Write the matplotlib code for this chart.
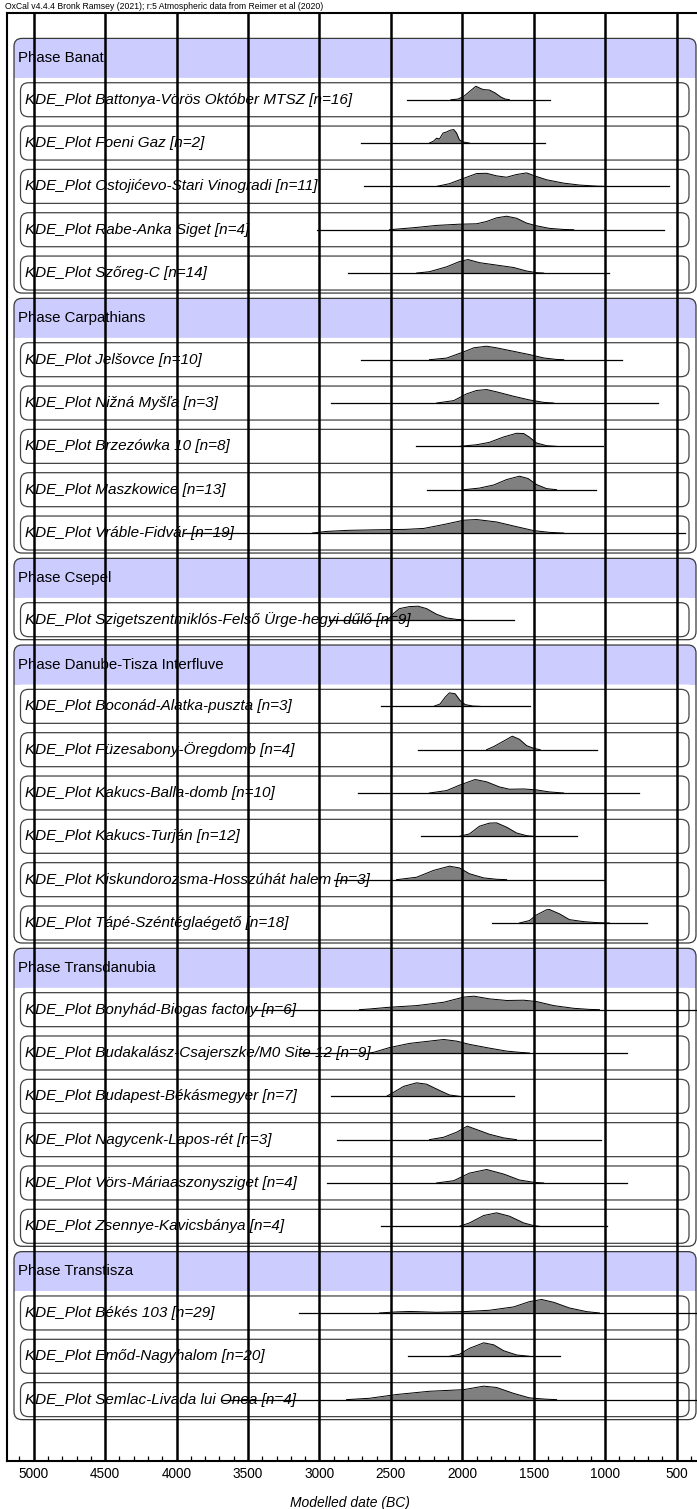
import matplotlib
matplotlib.use("Agg")
import matplotlib.pyplot as plt
import matplotlib.transforms as mtransforms
from matplotlib.patches import FancyBboxPatch, Rectangle
from matplotlib.ticker import MultipleLocator

plt.rcParams['font.family'] = ['Liberation Sans', 'DejaVu Sans']

# phases and the sites grouped under each of them
phases = ["Banat", "Carpathians", "Csepel", "Danube-Tisza Interfluve", "Transdanubia", "Transtisza"]
phase_sizes = [5, 5, 1, 6, 6, 3]

sites = [
    "Battonya-Vörös Október MTSZ", "Foeni Gaz", "Ostojićevo-Stari Vinogradi", "Rabe-Anka Siget", "Szőreg-C",
    "Jelšovce", "Nižná Myšľa", "Brzezówka 10", "Maszkowice", "Vráble-Fidvár",
    "Szigetszentmiklós-Felső Ürge-hegyi dűlő",
    "Boconád-Alatka-puszta", "Füzesabony-Öregdomb", "Kakucs-Balla-domb", "Kakucs-Turján",
    "Kiskundorozsma-Hosszúhát halem", "Tápé-Széntéglaégető",
    "Bonyhád-Biogas factory", "Budakalász-Csajerszke/M0 Site 12", "Budapest-Békásmegyer",
    "Nagycenk-Lapos-rét", "Vörs-Máriaaszonysziget", "Zsennye-Kavicsbánya",
    "Békés 103", "Emőd-Nagyhalom", "Semlac-Livada lui Onea",
]
site_n = [16, 2, 11, 4, 14, 10, 3, 8, 13, 19, 9, 3, 4, 10, 12, 3, 18, 6, 9, 7, 3, 4, 4, 29, 20, 4]

# extent of each KDE (years BC)
range_from = [2390, 2710, 2690, 3020, 2800, 2710, 2920, 2325, 2245, 3950, 2930, 2570, 2310,
              2730, 2290, 2900, 1790, 3450, 3135, 2920, 2875, 2945, 2570, 3145, 2380, 3680]
range_to = [1385, 1420, 550, 590, 975, 880, 630, 1015, 1065, 440, 1635, 1525, 1060,
            765, 1195, 1010, 710, 300, 845, 1640, 1030, 845, 985, 300, 1315, 300]

# KDE shapes: dates (BC) and density relative to each curve's maximum
kde_dates = [
    [2080, 2030, 1990, 1950, 1905, 1870, 1850, 1810, 1770, 1730, 1700, 1670],
    [2230, 2200, 2180, 2160, 2135, 2110, 2085, 2060, 2040, 2020, 1995, 1950],
    [2180, 2090, 1990, 1900, 1830, 1760, 1690, 1620, 1550, 1480, 1410, 1290, 1180, 1060, 990],
    [2510, 2340, 2180, 2020, 1900, 1830, 1760, 1690, 1620, 1550, 1480, 1390, 1290, 1220],
    [2320, 2230, 2110, 2020, 1960, 1880, 1760, 1640, 1550, 1480, 1430],
    [2230, 2110, 1990, 1920, 1830, 1760, 1640, 1530, 1430, 1340, 1290],
    [2180, 2060, 1970, 1900, 1830, 1760, 1640, 1530, 1430, 1360],
    [2020, 1900, 1810, 1710, 1620, 1570, 1530, 1480, 1410, 1340],
    [1990, 1880, 1780, 1690, 1600, 1540, 1480, 1410, 1340],
    [3050, 2950, 2800, 2600, 2400, 2270, 2130, 1990, 1900, 1760, 1620, 1500, 1390, 1290],
    [2540, 2510, 2480, 2440, 2370, 2310, 2250, 2180, 2110, 2040, 1990],
    [2200, 2155, 2120, 2090, 2050, 2015, 1980, 1925, 1875],
    [1830, 1780, 1710, 1650, 1600, 1550, 1500, 1455],
    [2230, 2110, 2020, 1910, 1830, 1740, 1670, 1570, 1480, 1390, 1290],
    [2020, 1950, 1880, 1810, 1760, 1690, 1620, 1550, 1500],
    [2460, 2320, 2200, 2090, 2020, 1950, 1850, 1760, 1690],
    [1600, 1530, 1480, 1410, 1390, 1320, 1250, 1150, 1060, 970],
    [2720, 2650, 2510, 2320, 2130, 1990, 1920, 1810, 1690, 1570, 1480, 1360, 1220, 1110, 1040],
    [2650, 2620, 2510, 2370, 2230, 2130, 2040, 1950, 1810, 1690, 1600, 1530],
    [2530, 2480, 2410, 2320, 2250, 2160, 2090, 2020],
    [2230, 2130, 2040, 1965, 1900, 1810, 1710, 1620],
    [2180, 2060, 1950, 1830, 1710, 1600, 1500, 1430],
    [2020, 1950, 1850, 1760, 1670, 1570, 1500, 1460],
    [2580, 2460, 2370, 2320, 2180, 1990, 1810, 1640, 1530, 1445, 1360, 1250, 1130, 1040],
    [2090, 2020, 1950, 1850, 1780, 1710, 1620, 1530],
    [2810, 2650, 2460, 2230, 1990, 1850, 1760, 1640, 1530, 1410, 1340],
]
kde_dens = [
    [0, 0.05, 0.25, 0.6, 1.0, 0.82, 0.75, 0.72, 0.5, 0.2, 0.05, 0],
    [0, 0.15, 0.36, 0.3, 0.74, 0.82, 0.95, 1.0, 0.74, 0.23, 0.08, 0],
    [0, 0.2, 0.6, 0.95, 0.97, 0.78, 0.68, 0.88, 1.0, 0.73, 0.49, 0.24, 0.1, 0.02, 0],
    [0, 0.15, 0.32, 0.41, 0.44, 0.61, 0.88, 1.0, 0.85, 0.49, 0.29, 0.1, 0.02, 0],
    [0, 0.1, 0.46, 0.85, 1.0, 0.77, 0.59, 0.41, 0.15, 0.03, 0],
    [0, 0.12, 0.58, 0.88, 1.0, 0.88, 0.62, 0.38, 0.13, 0.02, 0],
    [0, 0.18, 0.68, 0.93, 1.0, 0.83, 0.5, 0.23, 0.05, 0],
    [0, 0.12, 0.3, 0.7, 0.97, 0.95, 0.68, 0.25, 0.05, 0],
    [0, 0.12, 0.35, 0.75, 1.0, 0.83, 0.38, 0.08, 0],
    [0, 0.12, 0.2, 0.24, 0.27, 0.34, 0.63, 0.95, 1.0, 0.82, 0.47, 0.18, 0.05, 0],
    [0, 0.12, 0.47, 0.82, 0.97, 1.0, 0.82, 0.4, 0.13, 0.02, 0],
    [0, 0.18, 0.68, 1.0, 0.93, 0.43, 0.13, 0.02, 0],
    [0, 0.23, 0.64, 1.0, 0.77, 0.3, 0.1, 0],
    [0, 0.18, 0.58, 1.0, 0.83, 0.45, 0.28, 0.3, 0.23, 0.08, 0],
    [0, 0.18, 0.75, 0.98, 1.0, 0.68, 0.25, 0.05, 0],
    [0, 0.18, 0.69, 1.0, 0.87, 0.44, 0.13, 0.03, 0],
    [0, 0.18, 0.6, 0.98, 1.0, 0.68, 0.25, 0.1, 0.03, 0],
    [0, 0.05, 0.18, 0.3, 0.55, 0.93, 1.0, 0.8, 0.68, 0.7, 0.6, 0.3, 0.1, 0.02, 0],
    [0, 0.05, 0.4, 0.71, 0.88, 1.0, 0.88, 0.64, 0.36, 0.14, 0.05, 0],
    [0, 0.3, 0.74, 1.0, 0.9, 0.44, 0.1, 0],
    [0, 0.18, 0.55, 1.0, 0.75, 0.4, 0.13, 0],
    [0, 0.17, 0.73, 1.0, 0.66, 0.22, 0.05, 0],
    [0, 0.25, 0.8, 1.0, 0.75, 0.25, 0.05, 0],
    [0, 0.08, 0.11, 0.1, 0.05, 0.1, 0.2, 0.45, 0.84, 1.0, 0.79, 0.37, 0.1, 0],
    [0, 0.15, 0.59, 1.0, 0.85, 0.41, 0.1, 0],
    [0, 0.1, 0.38, 0.62, 0.74, 1.0, 0.9, 0.46, 0.13, 0.03, 0],
]

# figure geometry (pixels)
W, H = 697, 1509
ax_left, ax_right, ax_top, ax_bottom = 7, 700, 13, 1461
row0, pitch = 56.4, 43.33
peak_h = 13.5
lavender = "#ccccff"

fig = plt.figure(figsize=(W / 100, H / 100), dpi=100)
ax = fig.add_axes([ax_left / W, 1 - ax_bottom / H, (ax_right - ax_left) / W, (ax_bottom - ax_top) / H])
# date axis: 2000 BC sits at x=462.3 px, 500 years per 71.4 px
ax.set_xlim(2000 + (462.3 - ax_left) * 7.0, 2000 - (ax_right - 462.3) * 7.0)
ax.set_ylim(ax_bottom, ax_top)  # y in pixels from the top

px = mtransforms.Affine2D().scale(1 / W, -1 / H).translate(0, 1) + fig.transFigure


def rbox(x0, y0, x1, y1, fc, ec, lw, z, r=8):
    p = FancyBboxPatch((x0, y0), x1 - x0, y1 - y0, boxstyle=f"round,pad=0,rounding_size={r}",
                       fc=fc, ec=ec, lw=lw, transform=px, zorder=z, clip_on=False)
    ax.add_patch(p)


slot = 0
site_idx = 0
for p, name in enumerate(phases):
    yh = row0 + pitch * slot
    top = yh - 18
    hdr_bot = yh + 21.5
    last = yh + pitch * phase_sizes[p]
    bot = last + 20
    # phase frame with lavender header
    rbox(14, top, 696, bot, lavender, "none", 0, 0.5)
    rbox(14, hdr_bot, 696, bot, "white", "none", 0, 0.6)
    ax.add_patch(Rectangle((14, hdr_bot), 682, 10, fc="white", ec="none", transform=px, zorder=0.7))
    rbox(14, top, 696, bot, "none", "#3a3a3a", 0.9, 0.8)
    ax.text(18, yh + 1.5, "Phase " + name, transform=px, fontsize=10.8, va="center", ha="left", zorder=2)
    slot += 1
    for k in range(phase_sizes[p]):
        yc = row0 + pitch * slot
        rbox(20.5, yc - 17, 689, yc + 17, "white", "#444444", 0.9, 1)
        ax.text(25, yc, f"KDE_Plot {sites[site_idx]} [n={site_n[site_idx]}]", transform=px,
                fontsize=11, style="italic", va="center", ha="left", zorder=2)
        d = kde_dates[site_idx]
        top_y = [yc - v * peak_h for v in kde_dens[site_idx]]
        ax.fill_between(d, top_y, yc, color="#808080", lw=0, zorder=1.5)
        ax.plot(d, top_y, color="black", lw=0.7, zorder=1.6)
        ax.plot([range_from[site_idx], range_to[site_idx]], [yc, yc], color="black", lw=0.9, zorder=1.7)
        site_idx += 1
        slot += 1

# axis styling
for s in ["left", "top", "bottom"]:
    ax.spines[s].set_linewidth(1.5)
ax.spines["right"].set_visible(False)
ax.set_yticks([])
ax.xaxis.set_major_locator(MultipleLocator(500))
ax.xaxis.set_minor_locator(MultipleLocator(100))
ax.tick_params(axis="x", which="major", direction="in", length=0, labelsize=9.8, pad=4)
ax.tick_params(axis="x", which="minor", direction="in", length=3.5, width=0.9)
ax.grid(axis="x", which="major", color="black", lw=1.8)
ax.set_axisbelow(False)

fig.text(350 / W, 1 - 1503 / H, "Modelled date (BC)", ha="center", va="center", fontsize=10, style="italic")
fig.text(5 / W, 1 - 6.5 / H, "OxCal v4.4.4 Bronk Ramsey (2021); r:5 Atmospheric data from Reimer et al (2020)",
         ha="left", va="center", fontsize=6.2)

fig.savefig("out.png", dpi=100)
